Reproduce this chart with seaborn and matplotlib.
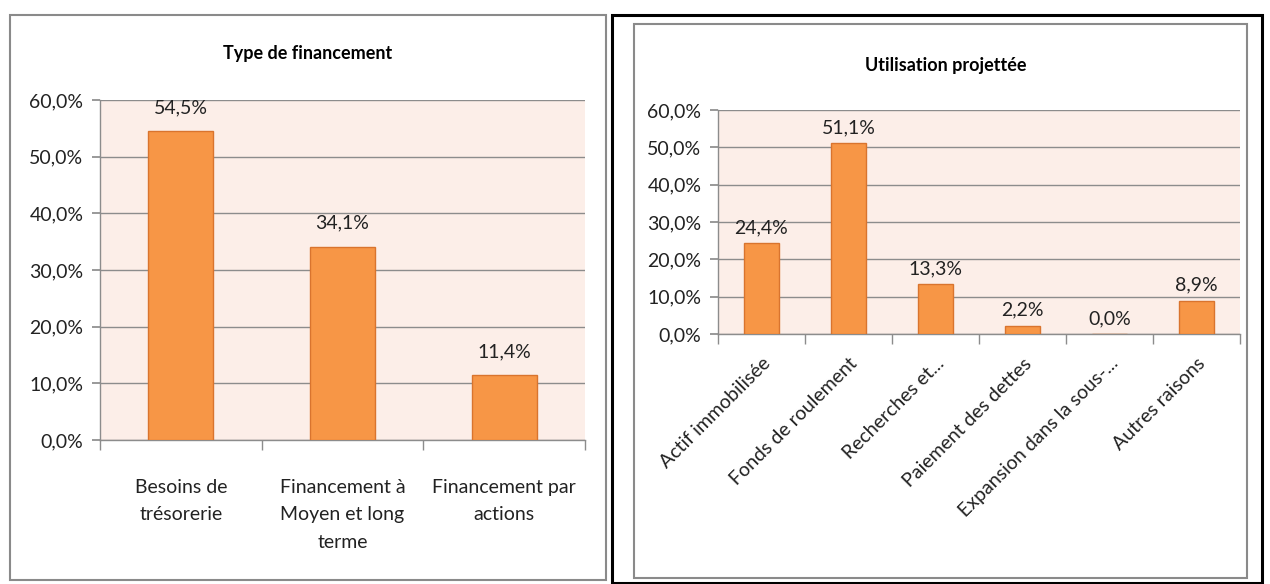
import matplotlib
matplotlib.use("Agg")
import matplotlib.pyplot as plt
import seaborn as sns
import pandas as pd
from matplotlib.patches import Rectangle
from matplotlib.ticker import FixedLocator, FuncFormatter

sns.set_theme(style="white")
plt.rcParams['font.family'] = ['Lato', 'DejaVu Sans']

# ---- data ----
left_title = "Type de financement"
left_cats = ["Besoins de\ntrésorerie", "Financement à\nMoyen et long\nterme", "Financement par\nactions"]
left_vals = [54.5, 34.1, 11.4]

right_title = "Utilisation projettée"
right_cats = ["Actif immobilisée", "Fonds de roulement", "Recherches et...",
              "Paiement des dettes", "Expansion dans la sous-...", "Autres raisons"]
right_vals = [24.4, 51.1, 13.3, 2.2, 0.0, 8.9]

yticks = [0, 10, 20, 30, 40, 50, 60]

BAR = "#F79646"
EDGE = "#D9742E"
BG = "#FCEEE8"
GRID = "#8C8C8C"
TXT = "#222222"

W, H = 1270, 584
fig = plt.figure(figsize=(W / 100, H / 100), dpi=100)
fig.patch.set_facecolor("white")

def fx(x): return x / W
def fy(y): return 1 - y / H

# panel borders
fig.patches.append(Rectangle((fx(10), fy(580)), fx(596), 565 / H, transform=fig.transFigure,
                             fill=False, edgecolor="#8a8a8a", linewidth=1.5))
fig.patches.append(Rectangle((fx(612), fy(583)), fx(650), 568 / H, transform=fig.transFigure,
                             fill=False, edgecolor="black", linewidth=2.2))
fig.patches.append(Rectangle((fx(634), fy(578)), fx(613), 554 / H, transform=fig.transFigure,
                             fill=False, edgecolor="#8a8a8a", linewidth=1.5))

pct = FuncFormatter(lambda v, p: f"{v:.1f}%".replace(".", ","))

def draw(ax, cats, vals, rotate, label_pad):
    df = pd.DataFrame({"cat": cats, "val": vals})
    sns.barplot(data=df, x="cat", y="val", ax=ax, color=BAR, width=0.4,
                saturation=1, edgecolor=EDGE, linewidth=1, zorder=3)
    ax.set_facecolor(BG)
    ax.set_ylim(0, 60)
    ax.set_xlim(-0.5, len(cats) - 0.5)
    ax.yaxis.set_major_locator(FixedLocator(yticks))
    ax.yaxis.set_major_formatter(pct)
    ax.grid(axis="y", color=GRID, linewidth=1, zorder=1)
    ax.set_axisbelow(True)
    for s in ["top", "right"]:
        ax.spines[s].set_visible(False)
    for s in ["left", "bottom"]:
        ax.spines[s].set_color(GRID)
        ax.spines[s].set_linewidth(1)
    ax.set_xlabel("")
    ax.set_ylabel("")
    ax.tick_params(axis="y", which="major", left=True, length=6, color=GRID,
                   labelsize=14, labelcolor=TXT, pad=6)
    ax.tick_params(axis="x", which="major", bottom=False, labelsize=14, labelcolor=TXT)
    ax.xaxis.set_minor_locator(FixedLocator([i - 0.5 for i in range(len(cats) + 1)]))
    ax.tick_params(axis="x", which="minor", bottom=True, length=7, color=GRID)
    for c in ax.containers:
        ax.bar_label(c, labels=[f"{v:.1f}%".replace(".", ",") for v in vals],
                     padding=label_pad, fontsize=14, color=TXT)
    ax.set_xticks(range(len(cats)))
    if rotate:
        ax.set_xticklabels(cats, rotation=45, ha="right", rotation_mode="anchor")
        ax.tick_params(axis="x", which="major", pad=9)
    else:
        ax.set_xticklabels(cats, linespacing=1.75)
        ax.tick_params(axis="x", which="major", pad=22)

ax1 = fig.add_axes([fx(100), fy(440), fx(485), 340 / H])
draw(ax1, left_cats, left_vals, False, 11)
fig.text(fx(308), fy(53), left_title, fontsize=13, fontweight="bold", color="black",
         ha="center", va="center")

ax2 = fig.add_axes([fx(718), fy(334), fx(522), 224 / H])
draw(ax2, right_cats, right_vals, True, 5)
fig.text(fx(946), fy(65), right_title, fontsize=13, fontweight="bold", color="black",
         ha="center", va="center")
for lbl in ax2.get_xticklabels():
    lbl.set_fontsize(14)

fig.savefig("out.png", dpi=100)
